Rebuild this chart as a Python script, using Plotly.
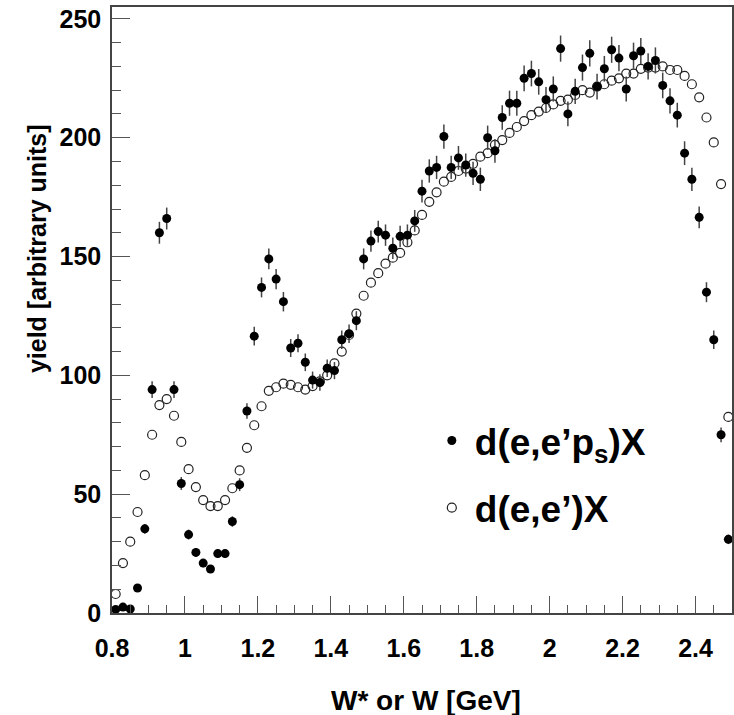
import plotly.graph_objects as go

# Bin centres W [GeV]
W = [0.81, 0.83, 0.85, 0.87, 0.89, 0.91, 0.93, 0.95, 0.97, 0.99,
     1.01, 1.03, 1.05, 1.07, 1.09, 1.11, 1.13, 1.15, 1.17, 1.19,
     1.21, 1.23, 1.25, 1.27, 1.29, 1.31, 1.33, 1.35, 1.37, 1.39,
     1.41, 1.43, 1.45, 1.47, 1.49, 1.51, 1.53, 1.55, 1.57, 1.59,
     1.61, 1.63, 1.65, 1.67, 1.69, 1.71, 1.73, 1.75, 1.77, 1.79,
     1.81, 1.83, 1.85, 1.87, 1.89, 1.91, 1.93, 1.95, 1.97, 1.99,
     2.01, 2.03, 2.05, 2.07, 2.09, 2.11, 2.13, 2.15, 2.17, 2.19,
     2.21, 2.23, 2.25, 2.27, 2.29, 2.31, 2.33, 2.35, 2.37, 2.39,
     2.41, 2.43, 2.45, 2.47, 2.49]

# d(e,e'p_s)X yield (filled)
yield_tagged = [1.5, 2.5, 1.7, 10.5, 35.4, 94, 160, 166, 94, 54.5,
                33, 25.5, 21, 18.5, 25, 25, 38.5, 54, 85, 116.5,
                137, 149, 140.5, 131, 111.5, 113.5, 105.5, 98, 97, 103,
                102, 115, 117.5, 123, 149, 156.5, 160.5, 159, 153.5, 158.5,
                159, 165, 177.5, 186, 187.5, 200.5, 187.5, 191.5, 188.5, 185,
                182.5, 200, 194.5, 208.5, 214.5, 214.5, 225, 227, 223.5, 216,
                220.5, 237.5, 210, 219.5, 229.5, 235.5, 221.5, 229, 237, 233.5,
                220.5, 234.5, 236.5, 230, 232.5, 222, 215.5, 209.5, 193.5, 182.5,
                166.5, 135, 115, 75, 31]

# statistical errors of the filled points
err_tagged = [0.4, 0.6, 0.5, 1.2, 2.1, 3.5, 4.6, 4.6, 3.5, 2.7,
              2.1, 1.8, 1.7, 1.6, 1.8, 1.8, 2.2, 2.7, 3.3, 3.9,
              4.2, 4.4, 4.3, 4.1, 3.8, 3.8, 3.7, 3.6, 3.5, 3.7,
              3.6, 3.9, 3.9, 4.0, 4.4, 4.5, 4.6, 4.5, 4.5, 4.5,
              4.5, 4.6, 4.8, 4.9, 4.9, 5.1, 4.9, 5.0, 4.9, 4.9,
              4.9, 5.1, 5.0, 5.2, 5.3, 5.3, 5.4, 5.4, 5.4, 5.3,
              5.3, 5.5, 5.2, 5.3, 5.5, 5.5, 5.4, 5.4, 5.5, 5.5,
              5.3, 5.5, 5.5, 5.5, 5.5, 5.4, 5.3, 5.2, 5.0, 4.9,
              4.6, 4.2, 3.9, 3.1, 2.0]

# d(e,e')X yield (open)
yield_inclusive = [8, 21, 30, 42.5, 58, 75, 87.5, 90, 83, 72,
                   60.5, 53, 47.5, 45, 45, 47.5, 52.5, 60, 69.5, 79,
                   87, 93.5, 95, 96.5, 96, 95, 94, 95.5, 97.5, 100,
                   105, 110, 117, 126, 133.5, 139, 143, 147, 149.5, 151.5,
                   156, 161, 167.5, 173, 177, 181.5, 183.5, 186, 187, 189,
                   192, 193.5, 197, 199, 202, 204.5, 207, 209.5, 211, 212.5,
                   214, 215.5, 216, 218, 220, 219, 221.5, 222.5, 224, 225,
                   227, 227, 229, 229.5, 229.5, 230, 228.5, 228.5, 226, 222.5,
                   217, 208.5, 198, 180.5, 82.5]

x_ticks = [0.8, 1.0, 1.2, 1.4, 1.6, 1.8, 2.0, 2.2, 2.4]
x_tick_text = ["0.8", "1", "1.2", "1.4", "1.6", "1.8", "2", "2.2", "2.4"]
y_ticks = [0, 50, 100, 150, 200, 250]

FONT = "Liberation Sans, Arial, Helvetica, sans-serif"

fig = go.Figure()

fig.add_trace(go.Scatter(
    x=W, y=yield_inclusive, mode="markers",
    name="d(e,e’)X", legendgroup="b", legendrank=2,
    marker=dict(symbol="circle-open", size=9, color="#222222",
                line=dict(width=1.2, color="#222222")),
))

fig.add_trace(go.Scatter(
    x=W, y=yield_tagged, mode="markers",
    name="d(e,e’p<sub>s</sub>)X", legendgroup="a", legendrank=1,
    error_y=dict(type="data", array=err_tagged, visible=True,
                 color="#444444", thickness=1.5, width=0),
    marker=dict(symbol="circle", size=9, color="black"),
))

axis_common = dict(
    showline=True, linecolor="#444444", linewidth=1.5, mirror=True,
    ticks="inside", tickcolor="#555555", tickwidth=1,
    showgrid=False, zeroline=False,
    tickfont=dict(family=FONT, size=25, color="black", weight="bold"),
)

fig.update_xaxes(
    range=[0.8, 2.5], tickvals=x_ticks, ticktext=x_tick_text, ticklen=17,
    minor=dict(dtick=0.05, tick0=0.8, ticks="inside", ticklen=8,
               tickcolor="#555555", tickwidth=1, showgrid=False),
    ticklabelstandoff=12,
    **axis_common,
)
fig.update_yaxes(
    range=[0, 255], tickvals=y_ticks, ticklen=18,
    minor=dict(dtick=10, tick0=0, ticks="inside", ticklen=9,
               tickcolor="#555555", tickwidth=1, showgrid=False),
    ticklabelstandoff=4,
    **axis_common,
)

fig.add_annotation(
    text="W* or W [GeV]", xref="paper", yref="paper",
    x=0.5064, y=-0.145, xanchor="center", yanchor="middle", showarrow=False,
    font=dict(family=FONT, size=28, color="black", weight="bold"),
)
fig.add_annotation(
    text="yield [arbitrary units]", xref="paper", yref="paper",
    x=-0.12, y=0.6015, xanchor="center", yanchor="middle", showarrow=False,
    textangle=-90,
    font=dict(family=FONT, size=25, color="black", weight="bold"),
)

fig.update_layout(
    width=734, height=715,
    margin=dict(l=112, r=0, t=7, b=102),
    paper_bgcolor="white", plot_bgcolor="white",
    showlegend=True,
    legend=dict(
        x=0.511, y=0.335, xanchor="left", yanchor="top",
        traceorder="grouped", tracegroupgap=16, itemwidth=36,
        bgcolor="rgba(0,0,0,0)",
        font=dict(family=FONT, size=37, color="black", weight="bold"),
    ),
)

fig.write_html("out.html")
